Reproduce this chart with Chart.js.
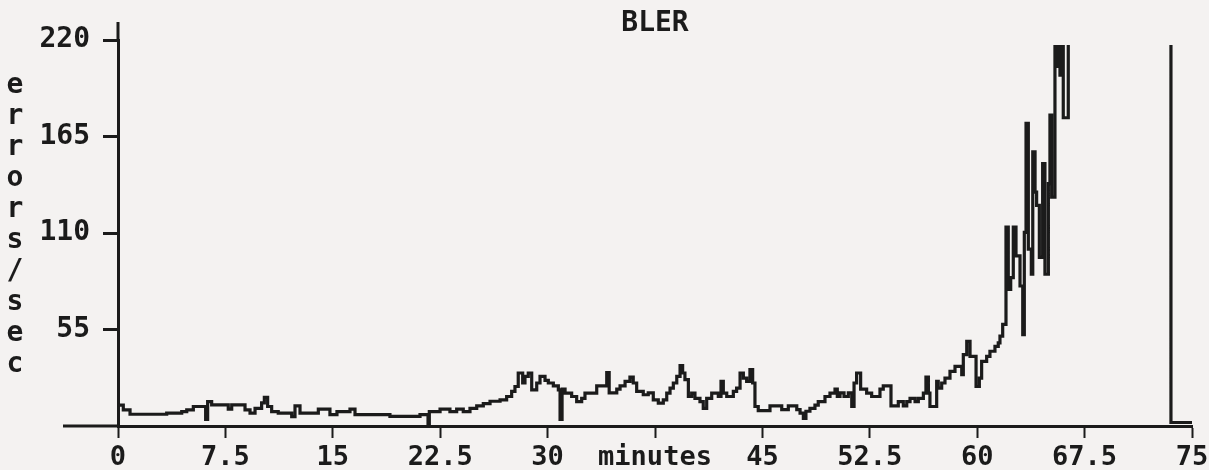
<!DOCTYPE html>
<html>
<head>
<meta charset="utf-8">
<title>BLER</title>
<script src="https://cdn.jsdelivr.net/npm/chart.js@4.4.1/dist/chart.umd.min.js"></script>
<style>
  html, body { margin: 0; padding: 0; background: #f4f2f1; }
  canvas { display: block; }
</style>
</head>
<body>
<canvas id="bler" width="1209" height="470"></canvas>
<script>
// time of each step change (minutes) and the error rate held from there on
var minutes = [
  0, 0.37, 0.84, 3.40, 4.45, 4.80, 5.26, 6.12, 6.26, 6.54,
  7.70, 7.94, 8.87, 9.22, 9.57, 10.03, 10.22, 10.45, 10.73, 11.19,
  12.13, 12.36, 12.71, 13.99, 14.80, 15.29, 16.20, 16.55, 18.99, 21.09,
  21.65, 21.74, 22.49, 23.18, 23.65, 24.11, 24.58, 25.05, 25.51, 25.98,
  26.68, 27.14, 27.49, 27.72, 27.95, 28.26, 28.42, 28.65, 28.89, 29.24,
  29.47, 29.82, 30.05, 30.40, 30.75, 30.87, 31.01, 31.22, 31.68, 32.03,
  32.38, 32.61, 33.43, 34.13, 34.30, 34.83, 35.06, 35.41, 35.75, 35.98,
  36.22, 36.68, 37.03, 37.38, 37.73, 38.08, 38.32, 38.55, 38.78, 39.02,
  39.25, 39.43, 39.59, 39.83, 40.06, 40.29, 40.64, 40.87, 41.11, 41.46,
  41.92, 42.11, 42.27, 42.51, 42.97, 43.20, 43.44, 43.67, 43.90, 44.13,
  44.32, 44.48, 44.71, 45.53, 46.35, 46.81, 47.40, 47.63, 47.86, 48.04,
  48.32, 48.67, 48.90, 49.37, 49.72, 50.07, 50.23, 50.42, 50.70, 51.00,
  51.24, 51.40, 51.58, 51.86, 52.28, 52.63, 53.21, 53.44, 53.98, 54.49,
  54.84, 55.08, 55.31, 55.66, 55.89, 56.24, 56.42, 56.59, 56.70, 57.17,
  57.28, 57.52, 57.75, 58.10, 58.45, 58.92, 59.03, 59.27, 59.50, 59.92,
  60.15, 60.31, 60.66, 60.89, 61.24, 61.47, 61.59, 61.78, 62.01, 62.17,
  62.34, 62.52, 62.71, 62.99, 63.18, 63.29, 63.41, 63.57, 63.78, 63.88,
  64.04, 64.15, 64.34, 64.57, 64.73, 64.97, 65.08, 65.20, 65.43, 65.55,
  65.66, 65.78, 65.90, 66.01, 66.36, 73.53, 75
];
var errorsPerSec = [
  11.9, 9.2, 6.7, 7.3, 8.2, 9.2, 11.1, 3.8, 13.9, 12.0,
  9.6, 12.0, 9.2, 7.3, 10.1, 13.2, 16.4, 11.1, 8.2, 7.3,
  5.3, 11.5, 7.3, 9.6, 6.5, 8.2, 9.6, 6.5, 5.5, 6.5,
  1.5, 8.2, 9.6, 8.2, 9.6, 8.2, 10.1, 11.5, 12.8, 14.1,
  14.9, 16.8, 19.7, 22.5, 30.2, 24.5, 28.3, 30.2, 20.6, 24.5,
  28.3, 26.0, 24.5, 22.9, 20.6, 3.8, 21.0, 18.7, 16.8, 13.9,
  15.8, 18.7, 22.9, 30.5, 18.9, 21.0, 22.9, 25.4, 27.9, 24.5,
  19.7, 17.8, 18.9, 14.9, 13.0, 14.9, 18.7, 21.6, 24.5, 28.3,
  34.4, 30.2, 26.4, 16.8, 18.7, 15.8, 13.9, 10.1, 15.8, 18.7,
  16.8, 25.4, 18.7, 16.8, 19.7, 21.6, 30.2, 27.3, 25.4, 32.1,
  24.5, 11.1, 8.8, 11.5, 9.3, 11.5, 9.3, 7.3, 4.4, 8.4,
  10.1, 11.9, 13.9, 16.8, 18.7, 21.0, 16.8, 18.9, 16.8, 18.9,
  11.1, 24.5, 30.2, 21.0, 18.7, 16.8, 21.0, 22.9, 11.5, 13.9,
  11.5, 13.9, 15.8, 13.9, 15.8, 18.7, 27.9, 18.7, 11.1, 25.4,
  21.6, 24.5, 27.3, 31.1, 34.0, 29.2, 40.7, 48.3, 39.7, 22.5,
  27.3, 36.8, 39.7, 42.6, 45.4, 47.4, 51.2, 57.9, 113.3, 77.9,
  84.6, 113.3, 97.0, 79.8, 52.1, 110.4, 172.5, 100.8, 86.5, 156.3,
  133.3, 125.7, 96.1, 149.6, 86.5, 138.1, 177.2, 130.4, 230, 205,
  230, 200, 230, 175.7, 230, 2, 2
];

var xTicks = [0, 7.5, 15, 22.5, 30, 37.5, 45, 52.5, 60, 67.5, 75];
var yTicks = [55, 110, 165, 220];
var xTitle = 'minutes';
var yTitle = 'errors/sec';
var chartTitle = 'BLER';

var ink = '#1b1b1b';
var mono = '"DejaVu Sans Mono", "Liberation Mono", monospace';

var points = minutes.map(function(m, i) { return {x: m, y: errorsPerSec[i]}; });

// the old plotter draws its axes a bit past the plot box, and writes the
// y title one letter under the other
var extras = {
  id: 'extras',
  afterDraw: function(chart) {
    var ctx = chart.ctx;
    var area = chart.chartArea;
    ctx.save();
    ctx.strokeStyle = ink;
    ctx.lineWidth = 3;
    ctx.beginPath();
    ctx.moveTo(63, area.bottom);
    ctx.lineTo(area.left, area.bottom);
    ctx.moveTo(area.left, area.top);
    ctx.lineTo(area.left, 22);
    ctx.stroke();

    ctx.fillStyle = ink;
    ctx.font = 'bold 28px ' + mono;
    ctx.textAlign = 'center';
    ctx.textBaseline = 'alphabetic';
    for (var i = 0; i < yTitle.length; i++) {
      ctx.fillText(yTitle[i], 15, 93 + i * 31);
    }
    ctx.restore();
  }
};

new Chart(document.getElementById('bler'), {
  type: 'line',
  data: {
    datasets: [{
      data: points,
      stepped: true,
      borderColor: ink,
      borderWidth: 3.2,
      borderJoinStyle: 'miter',
      pointRadius: 0,
      fill: false,
      clip: {left: 0, top: -5, right: 0, bottom: 3}
    }]
  },
  options: {
    responsive: false,
    animation: false,
    events: [],
    layout: { padding: {left: 0, right: 17, top: 0, bottom: 0} },
    plugins: {
      legend: { display: false },
      tooltip: { enabled: false },
      title: {
        display: true,
        text: chartTitle,
        fullSize: false,
        color: ink,
        font: { family: mono, size: 28, weight: 'bold', lineHeight: 32 / 28 },
        padding: { top: 8, bottom: 0 }
      }
    },
    scales: {
      x: {
        type: 'linear',
        min: 0,
        max: 75,
        afterBuildTicks: function(scale) {
          scale.ticks = xTicks.map(function(v) { return {value: v}; });
        },
        afterFit: function(scale) {
          scale.height = 44;
          scale.paddingLeft = 0;
          scale.paddingRight = 0;
        },
        border: { display: true, color: ink, width: 3 },
        grid: {
          drawOnChartArea: false,
          drawTicks: true,
          tickLength: 12,
          tickWidth: 2,
          tickColor: ink
        },
        ticks: {
          color: ink,
          padding: 4,
          maxRotation: 0,
          autoSkip: false,
          font: { family: mono, size: 27, weight: 'bold' },
          callback: function(v) { return v === 37.5 ? xTitle : String(v); }
        }
      },
      y: {
        min: 0,
        max: 220,
        afterBuildTicks: function(scale) {
          scale.ticks = yTicks.map(function(v) { return {value: v}; });
        },
        afterFit: function(scale) { scale.width = 118; },
        border: { display: true, color: ink, width: 3 },
        grid: {
          drawOnChartArea: false,
          drawTicks: true,
          tickLength: 15,
          tickWidth: 3,
          tickColor: ink
        },
        ticks: {
          color: ink,
          padding: 13,
          font: { family: mono, size: 28, weight: 'bold' },
          callback: function(v) { return String(v); }
        }
      }
    }
  },
  plugins: [extras]
});
</script>
</body>
</html>
